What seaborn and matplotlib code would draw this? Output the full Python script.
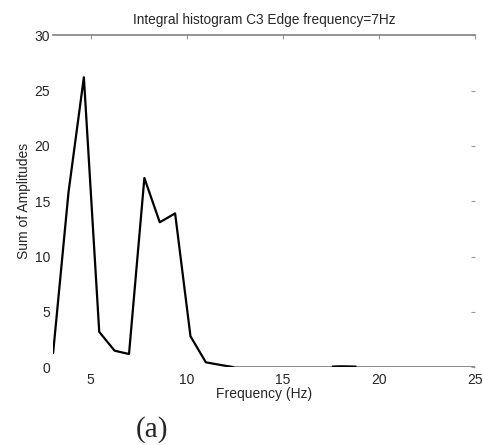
import numpy as np
import pandas as pd
import seaborn as sns
import matplotlib
matplotlib.use("Agg")
import matplotlib.pyplot as plt

# main part of the curve
freq = [3.05, 3.85, 4.65, 5.45, 6.25, 7.0, 7.8, 8.6, 9.4, 10.2, 11.0, 11.8, 12.5]
amp = [1.3, 15.8, 26.2, 3.2, 1.5, 1.2, 17.1, 13.1, 13.9, 2.8, 0.45, 0.2, 0.0]
# flat tail, near zero
tail_freq = [12.5, 13.3, 14.1, 14.8, 15.6, 16.4, 17.2, 18.0, 18.8, 19.5, 20.3, 21.1, 21.9, 22.7, 23.4, 24.2, 25.0]
tail_amp = [0.0] * 17
bump_freq = [17.6, 18.0, 18.8]
bump_amp = [0.08, 0.1, 0.08]

xticks = [5, 10, 15, 20, 25]
yticks = [0, 5, 10, 15, 20, 25, 30]

sns.set_style("white")
plt.rcParams['font.family'] = ['Liberation Sans', 'DejaVu Sans']

fig = plt.figure(figsize=(4.83, 4.45), dpi=100)
ax = fig.add_axes([0.110, 0.1746, 0.873, 0.7464])

df = pd.DataFrame({"f": freq, "a": amp})
sns.lineplot(data=df, x="f", y="a", color="black", linewidth=1.6, ax=ax)
sns.lineplot(x=tail_freq, y=tail_amp, color="#8c8c8c", linewidth=1.4, ax=ax)
sns.lineplot(x=bump_freq, y=bump_amp, color="black", linewidth=1.4, ax=ax)

ax.set_xlim(3.05, 25)
ax.set_ylim(0, 30)
ax.set_xticks(xticks)
ax.set_yticks(yticks)
ax.tick_params(direction="in", length=3, width=0.8, color="#999999",
               top=True, right=True, labelsize=10)
ax.tick_params(axis="x", pad=4)
ax.tick_params(axis="y", pad=2)
for s in ["left", "right", "bottom"]:
    ax.spines[s].set_visible(False)
ax.spines["top"].set_color("#8c8c8c")
ax.spines["top"].set_linewidth(1.3)

ax.set_xlabel("Frequency (Hz)", fontsize=10, labelpad=0)
ax.set_ylabel("Sum of Amplitudes", fontsize=10, labelpad=3)
ax.set_title("Integral histogram C3 Edge frequency=7Hz", fontsize=9.8, pad=8)

# caption below the chart
fig.text(152 / 483, 1 - 430 / 445, "(a)", family="Liberation Serif", fontsize=21,
         ha="center", va="center")

plt.savefig("out.png", dpi=100)
